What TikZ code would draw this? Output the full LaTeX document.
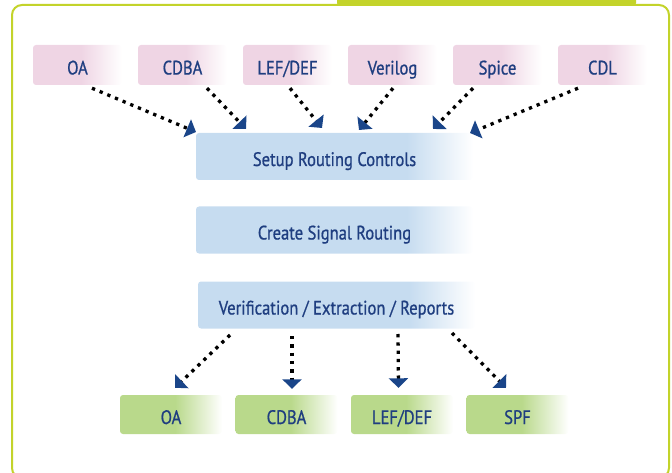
\documentclass[tikz,border=0pt]{standalone}
\usepackage{fontspec}
\setmainfont[FakeStretch=0.85, FakeBold=0.8]{PT Sans}
\usetikzlibrary{arrows.meta}

\definecolor{framegreen}{HTML}{C3D32A}
\definecolor{pinkbox}{HTML}{EFD5E4}
\definecolor{bluebox}{HTML}{C6DCF0}
\definecolor{greenbox}{HTML}{B9D98B}
\definecolor{navy}{HTML}{1F3E80}
\definecolor{tipblue}{HTML}{1A4589}

\pgfdeclarehorizontalshading{pinkfade}{100bp}{color(0bp)=(pinkbox); color(25bp)=(pinkbox); color(52bp)=(pinkbox); color(75bp)=(white); color(100bp)=(white)}
\pgfdeclarehorizontalshading{bluefade}{100bp}{color(0bp)=(bluebox); color(25bp)=(bluebox); color(63bp)=(bluebox); color(75bp)=(white); color(100bp)=(white)}
\pgfdeclarehorizontalshading{greenfade}{100bp}{color(0bp)=(greenbox); color(25bp)=(greenbox); color(52bp)=(greenbox); color(75bp)=(white); color(100bp)=(white)}

\tikzset{
 box/.style={rounded corners=3pt, inner sep=0pt, text=navy, font=\fontsize{19.5}{19.5}\selectfont, text height=19pt, text depth=0pt},
 inbox/.style={box, shading=pinkfade, minimum width=89pt, minimum height=40pt},
 stepbox/.style={box, shading=bluefade, minimum width=277pt, minimum height=47pt},
 outbox/.style={box, shading=greenfade, minimum width=102pt, minimum height=39pt},
 flow/.style={line width=3.3pt, dash pattern=on 3.3pt off 5pt, -{Triangle[width=19pt,length=9.5pt,color=tipblue]}}
}

\begin{document}
\begin{tikzpicture}[x=1pt, y=-1pt]
\clip (0,0) rectangle (672,473);
% frame and tab
\fill[framegreen, rounded corners=2pt] (337,-5) rectangle (636,5);
\draw[framegreen, line width=2pt, rounded corners=10pt] (12,5) rectangle (669,478);

% input formats
\foreach \name/\txt [count=\i] in {oa/OA, cdba/CDBA, lefdef/{LEF/DEF}, verilog/Verilog, spice/Spice, cdl/CDL} {
 \node[inbox] (in\name) at (77.5+105*\i-105, 65) {\txt};
}

% flow steps
\node[stepbox] (setup) at (334.5, 156.5) {Setup Routing Controls};
\node[stepbox] (route) at (334.5, 230) {Create Signal Routing};
\node[stepbox] (verify) at (336.5, 305) {Verification / Extraction / Reports};

% output formats
\foreach \name/\txt [count=\i] in {oa/OA, cdba/CDBA, lefdef/{LEF/DEF}, spf/SPF} {
 \node[outbox] (out\name) at (171+115.5*\i-115.5, 414.5) {\txt};
}

% arrows in
\foreach \name/\dx/\ex/\ey in {oa/14.5/196/132, cdba/24.5/246/129, lefdef/2.5/322/128, verilog/0.5/359/130, spice/-24.5/433/129, cdl/-24.5/470/133} {
 \coordinate (end\name) at (\ex,\ey);
 \draw[flow] ([xshift=\dx, yshift=-3]in\name.south) -- (end\name);
}

% arrows out
\foreach \name/\sx/\sy in {oa/230/335, cdba/292/336, lefdef/398/334, spf/452/333} {
 \coordinate (beg\name) at (\sx,\sy);
}
\draw[flow] (begoa) -- ([xshift=4, yshift=7]outoa.north);
\draw[flow] (begcdba) -- ([xshift=5.5, yshift=6]outcdba.north);
\draw[flow] (beglefdef) -- ([xshift=-3.5, yshift=7]outlefdef.north);
\draw[flow] (begspf) -- ([xshift=-11.5, yshift=7]outspf.north);
\end{tikzpicture}
\end{document}
